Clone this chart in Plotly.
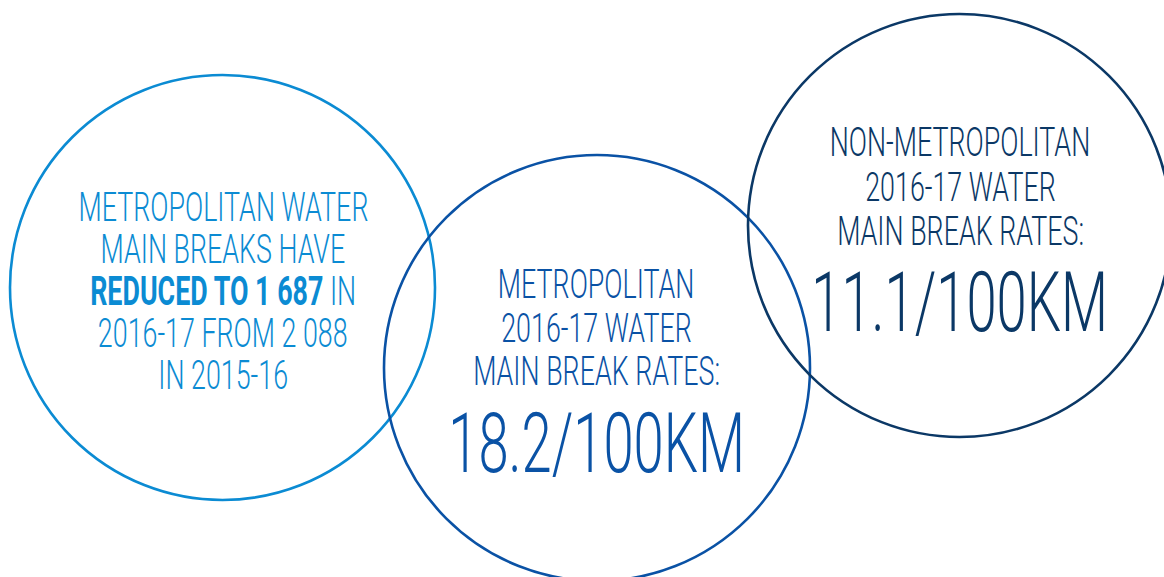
import plotly.graph_objects as go

# Data
breaks_2016_17 = 1687
breaks_2015_16 = 2088
metro_rate = 18.2
nonmetro_rate = 11.1
labels = ["METROPOLITAN", "NON-METROPOLITAN"]

W, H = 1164, 577
FONT = "Roboto, 'Noto Sans', sans-serif"
C1, C2, C3 = "#0b8bd3", "#0a52a5", "#0b3866"

fig = go.Figure()
fig.update_layout(
    width=W, height=H, margin=dict(l=0, r=0, t=0, b=0),
    paper_bgcolor="white", plot_bgcolor="white", showlegend=False,
    xaxis=dict(range=[0, W], visible=False, fixedrange=True),
    yaxis=dict(range=[H, 0], visible=False, fixedrange=True),
)

circles = [((222.5, 287.5), 212.5, C1), ((597, 368), 213, C2), ((959.5, 225.5), 211.5, C3)]
for (cx, cy), r, col in circles:
    fig.add_shape(type="circle", xref="x", yref="y", x0=cx - r, x1=cx + r, y0=cy - r, y1=cy + r,
                  line=dict(color=col, width=2.6))

def fmt(n):
    return f"{n:,}".replace(",", " ")

def line(x, y, text, col, size):
    fig.add_annotation(x=x, y=y, xref="x", yref="y", text=text, showarrow=False,
                       xanchor="center", yanchor="middle",
                       font=dict(family=FONT, size=size, color=col, weight=300))

# Circle 1
l1 = [f"{labels[0]} WATER", "MAIN BREAKS HAVE",
      f"<b>REDUCED TO {fmt(breaks_2016_17)}</b> IN",
      f"2016-17 FROM {fmt(breaks_2015_16)}", "IN 2015-16"]
for i, t in enumerate(l1):
    line(223, 207 + i * 42, t, C1, 41)

# Circle 2
l2 = [labels[0], "2016-17 WATER", "MAIN BREAK RATES:"]
for i, t in enumerate(l2):
    line(596, 284 + i * 43.5, t, C2, 41)
line(596, 443, f"{metro_rate}/100KM", C2, 83)

# Circle 3
l3 = [labels[1], "2016-17 WATER", "MAIN BREAK RATES:"]
for i, t in enumerate(l3):
    line(960, 142 + i * 44.5, t, C3, 41)
line(959, 302, f"{nonmetro_rate}/100KM", C3, 83)

post = """
document.body.style.margin='0';
document.querySelectorAll('.annotation-text').forEach(function(t){
  t.style.transformBox='fill-box';
  t.style.transformOrigin='center';
  t.style.transform='scaleX(0.655)';
});
"""
fig.write_html("out.html", post_script=post, config={"displayModeBar": False})
